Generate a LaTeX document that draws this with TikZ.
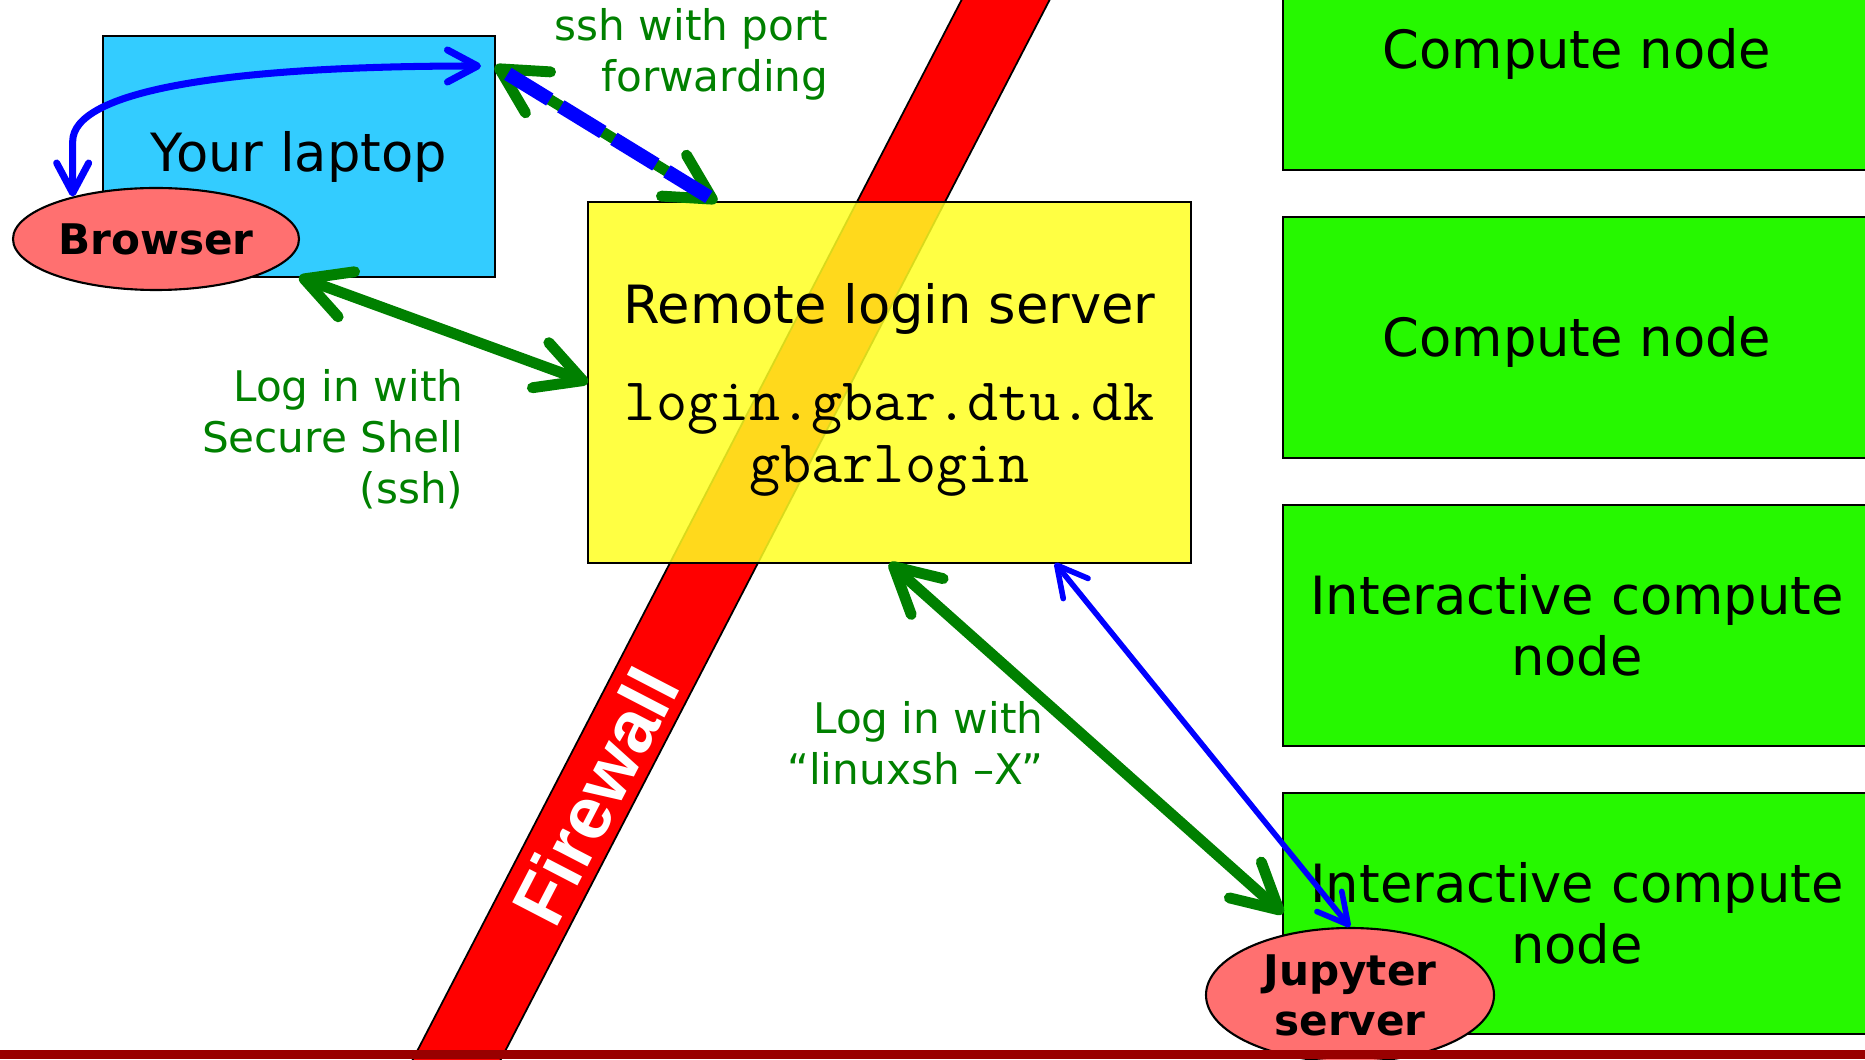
\documentclass[tikz,border=0pt]{standalone}
\usepackage{fontspec}
\setmainfont{DejaVu Sans}
\newfontfamily\wallfont{Liberation Sans}
\usetikzlibrary{arrows.meta,positioning,shapes.geometric}
\definecolor{laptop-blue}{RGB}{51,204,255}
\definecolor{server-yellow}{RGB}{255,255,34}
\definecolor{node-green}{RGB}{38,248,0}
\definecolor{proc-red}{RGB}{255,112,112}
\definecolor{link-green}{RGB}{0,128,0}
\definecolor{bar-red}{RGB}{153,0,0}
\newcommand{\hostname}[1]{{\ttfamily\fontsize{17.2}{17.5}\selectfont #1}}

\begin{document}
\begin{tikzpicture}[
        node distance=0.47cm,
        box/.style={draw, line width=0.6pt, rectangle, inner sep=0pt, outer sep=0pt, align=center, font=\fontsize{15}{17.5}\selectfont},
        cnode/.style={box, fill=node-green, minimum width=5.88cm, minimum height=2.41cm},
        proc/.style={draw, line width=0.6pt, ellipse, fill=proc-red, inner sep=0pt, align=center, font=\bfseries\fontsize{12}{14.2}\selectfont},
        note/.style={text=link-green, inner sep=0pt, align=right, anchor=east, font=\fontsize{12}{14.5}\selectfont},
        sshline/.style={draw=link-green, line width=3.1pt, {Straight Barb[round,length=4.5mm,width=4.8mm]}-{Straight Barb[round,length=4.5mm,width=4.8mm]}},
        webline/.style={draw=blue, line width=1.6pt, {Straight Barb[round,length=3mm,width=3.2mm]}-{Straight Barb[round,length=3mm,width=3.2mm]}}
    ]
        \useasboundingbox (0,0) rectangle (18.65,10.59);
        \clip (0,0) rectangle (18.65,10.59);

        % Firewall band
        \filldraw[fill=red, draw=black, line width=0.5pt] (3.975,-0.3) -- (4.855,-0.3) -- (10.656,10.9) -- (9.776,10.9) -- cycle;
        \node[rotate=62.6, text=white, inner sep=0pt, font=\wallfont\bfseries\fontsize{21}{21}\selectfont] (firewall) at (5.95,2.63) {Firewall};

        % Laptop side
        \node[box, fill=laptop-blue, minimum width=3.92cm, minimum height=2.41cm] (laptop) at (2.99,9.025) {Your laptop};
        \node[proc, minimum width=2.86cm, minimum height=1.02cm] (browser) at (1.56,8.20) {Browser};

        % Login server
        \node[box, fill=server-yellow, fill opacity=0.85, text opacity=1, minimum width=6.03cm, minimum height=3.61cm] (server) at (8.895,6.765)
            {\raisebox{0pt}[15.5pt]{Remote login server}\\[10.2pt]\hostname{login.gbar.dtu.dk}\\\hostname{gbarlogin}};

        % Cluster nodes
        \node[cnode, text height=14pt] (cn1) at (15.77,10.095) {Compute node};
        \node[cnode, text height=14pt, below=of cn1] (cn2) {Compute node};
        \node[cnode, below=of cn2] (icn1) {Interactive compute\\node};
        \node[cnode, below=of icn1] (icn2) {Interactive compute\\node};
        \node[proc, minimum width=2.88cm, minimum height=1.34cm] (jupyter) at (13.50,0.64) {Jupyter\\server};

        % Connections
        \coordinate (portout) at ([yshift=-0.30cm]laptop.north east);
        \coordinate (portin) at ([xshift=1.29cm]server.north west);
        \coordinate (lapport) at ([shift={(-0.14,-0.30)}]laptop.north east);
        \draw[sshline] (laptop.south) -- (server.west);
        \draw[sshline] (server.south) -- (icn2.west);
        \draw[sshline] (portout) -- (portin);
        \draw[draw=blue, line width=4pt, dash pattern=on 14pt off 3.7pt, shorten <=1.5mm] (portout) -- (portin);
        \draw[webline, line width=2pt] (browser.153) -- ++(0,0.55) .. controls +(0,0.5) and +(-2.6,0) .. (lapport);
        \draw[webline] ([xshift=-1.36cm]server.south east) -- (jupyter.north);

        % Labels
        \node[note] (fwdnote) at (8.29,10.05) {ssh with port\\forwarding};
        \node[note] (sshnote) at (4.64,6.20) {Log in with\\Secure Shell\\(ssh)};
        \node[note] (xnote) at (10.44,3.16) {Log in with\\“linuxsh –X”};

        % Bottom bar
        \fill[bar-red] (0,0) rectangle (18.65,0.09);
    \end{tikzpicture}
\end{document}
